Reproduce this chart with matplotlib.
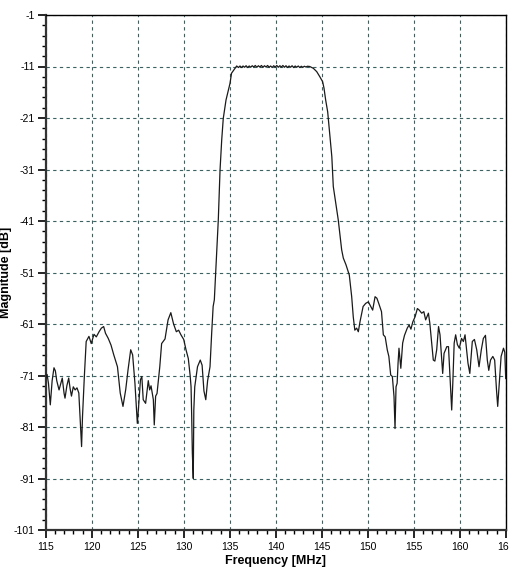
"""Filter response: magnitude vs frequency, drawn to out.png."""

import matplotlib

matplotlib.use("Agg")

import matplotlib.pyplot as plt
from matplotlib.ticker import MultipleLocator

plt.rcParams["axes.unicode_minus"] = False
plt.rcParams["font.family"] = ["Liberation Sans Narrow", "Liberation Sans", "DejaVu Sans"]

# (MHz, dB)
freq_lo = [
    115.0, 115.15, 115.3, 115.5, 115.7, 115.9, 116.05, 116.2, 116.45, 116.65,
    116.8, 117.0, 117.1, 117.3, 117.5, 117.65, 117.8, 118.0, 118.2, 118.4,
    118.6, 118.75, 118.9, 119.0, 119.2, 119.4, 119.7, 119.95, 120.25, 120.5,
    120.8, 121.05, 121.3, 121.5, 121.8, 122.1, 122.4, 122.8, 123.1, 123.4,
    123.7, 123.95, 124.24, 124.45, 124.7, 124.96, 125.1, 125.3, 125.45, 125.6,
    125.86, 126.15, 126.3, 126.45, 126.7, 126.8, 126.95, 127.1, 127.4, 127.6,
    127.97, 128.3, 128.6, 128.9, 129.2, 129.45, 129.7, 130.0, 130.25, 130.5,
    130.7, 130.8, 130.87, 130.94, 131.04, 131.1, 131.2, 131.5, 131.8, 132.0,
    132.2, 132.4, 132.6, 132.86, 133.04, 133.2, 133.33, 133.76, 133.95, 134.13,
    134.3, 134.6, 134.85, 135.03, 135.2, 135.58, 135.76,
]
mag_lo = [
    -71.5, -70.8, -72.5, -76.7, -72.0, -69.5, -70.1, -72.0, -73.8, -72.5,
    -71.5, -74.5, -75.4, -73.0, -71.5, -73.5, -75.0, -73.2, -73.8, -73.4,
    -74.4, -79.6, -84.8, -79.0, -71.2, -64.4, -63.4, -64.8, -63.0, -63.5,
    -62.5, -61.8, -61.5, -62.8, -63.8, -65.1, -67.0, -69.3, -74.4, -77.0,
    -73.7, -69.9, -66.0, -67.0, -72.5, -80.3, -77.0, -71.8, -71.2, -75.7,
    -76.4, -72.0, -73.8, -73.0, -75.7, -80.6, -75.0, -74.5, -69.3, -64.8,
    -63.9, -60.2, -58.8, -61.0, -62.5, -62.2, -63.1, -64.0, -66.0, -67.7,
    -71.0, -73.2, -79.0, -86.1, -91.0, -77.7, -73.2, -69.3, -68.0, -69.0,
    -74.0, -75.7, -72.0, -69.3, -62.8, -57.6, -56.3, -40.8, -31.1, -25.3,
    -21.1, -17.5, -15.6, -14.3, -12.3, -11.35, -10.9,
]

# passband ripple
freq_pass = [
    135.95, 136.12, 136.28, 136.45, 136.62, 136.78, 136.95, 137.12, 137.28, 137.45,
    137.62, 137.78, 137.95, 138.12, 138.28, 138.45, 138.62, 138.78, 138.95, 139.12,
    139.28, 139.45, 139.62, 139.78, 139.95, 140.12, 140.28, 140.45, 140.62, 140.78,
    140.95, 141.12, 141.28, 141.45, 141.62, 141.78, 141.95, 142.12, 142.28, 142.45,
    142.62, 142.78, 142.95, 143.12, 143.28, 143.45, 143.7,
]
mag_pass = [
    -11.2, -10.9, -11.2, -10.9, -11.15, -10.85, -11.2, -10.9, -11.15, -10.85,
    -11.1, -10.8, -11.15, -10.85, -11.1, -10.8, -11.15, -10.85, -11.1, -10.8,
    -11.15, -10.9, -11.2, -10.85, -11.1, -10.8, -11.15, -10.85, -11.1, -10.8,
    -11.15, -10.85, -11.2, -10.9, -11.15, -10.85, -11.2, -10.9, -11.15, -10.9,
    -11.2, -10.95, -11.15, -10.95, -11.1, -10.95, -11.0,
]

freq_hi = [
    144.09, 144.46, 144.8, 145.1, 145.25, 145.43, 145.65, 145.8, 146.1, 146.26,
    146.45, 146.8, 147.17, 147.35, 147.64, 148.0, 148.26, 148.43, 148.6, 148.8,
    148.98, 149.16, 149.5, 149.78, 150.07, 150.3, 150.54, 150.8, 151.0, 151.2,
    151.5, 151.7, 151.9, 152.13, 152.3, 152.5, 152.68, 152.86, 152.97, 153.08,
    153.2, 153.3, 153.4, 153.6, 153.8, 154.0, 154.3, 154.5, 154.7, 154.9,
    155.15, 155.4, 155.6, 155.87, 156.1, 156.3, 156.6, 156.75, 156.96, 157.13,
    157.3, 157.5, 157.7, 157.86, 158.15, 158.3, 158.6, 158.78, 158.95, 159.13,
    159.25, 159.4, 159.56, 159.75, 159.96, 160.2, 160.4, 160.58, 160.75, 160.9,
    161.1, 161.37, 161.6, 161.85, 162.1, 162.35, 162.57, 162.8, 163.0, 163.16,
    163.35, 163.6, 163.8, 164.0, 164.13, 164.3, 164.5, 164.76, 164.9, 165.0,
]
mag_hi = [
    -11.35, -12.0, -13.0, -13.95, -15.2, -17.5, -19.8, -22.7, -28.5, -34.3,
    -36.6, -40.8, -46.6, -48.2, -49.5, -51.5, -55.7, -59.6, -62.2, -61.8,
    -62.5, -60.6, -57.6, -57.0, -56.7, -57.5, -58.3, -55.7, -56.0, -57.0,
    -58.6, -63.1, -63.5, -66.05, -67.3, -70.9, -71.2, -75.1, -81.3, -73.2,
    -72.5, -68.6, -65.7, -69.6, -64.7, -63.2, -61.8, -61.2, -62.0, -60.6,
    -59.6, -58.0, -58.3, -58.9, -58.6, -60.2, -58.9, -60.8, -64.7, -68.0,
    -68.2, -66.0, -61.5, -63.1, -70.6, -66.7, -65.4, -65.4, -71.2, -77.7,
    -72.5, -64.7, -63.1, -65.0, -65.7, -63.8, -64.4, -63.1, -66.0, -68.6,
    -70.6, -64.4, -64.0, -66.0, -69.3, -66.0, -63.8, -63.2, -68.0, -70.0,
    -68.0, -67.3, -68.0, -73.8, -77.0, -72.5, -67.3, -65.7, -66.5, -71.6,
]

x_ticks = [115, 120, 125, 130, 135, 140, 145, 150, 155, 160, 165]
y_ticks = [-101, -91, -81, -71, -61, -51, -41, -31, -21, -11, -1]

GRID_COLOR = "#3a6262"


def main() -> None:
    freq = freq_lo + freq_pass + freq_hi
    mag = mag_lo + mag_pass + mag_hi

    fig = plt.figure(figsize=(5.09, 5.71), dpi=100)
    ax = fig.add_axes([45.7 / 509, 41 / 571, 460 / 509, 515 / 571])

    ax.plot(freq, mag, color="#1a1a1a", linewidth=0.9, zorder=3)

    ax.set_xlim(115, 165)
    ax.set_ylim(-101, -1)
    ax.set_xticks(x_ticks)
    ax.set_yticks(y_ticks)
    ax.xaxis.set_minor_locator(MultipleLocator(1))
    # minor steps of 2 dB counted from the odd major ticks
    ax.yaxis.set_minor_locator(MultipleLocator(2, offset=1))

    ax.grid(True, which="major", color=GRID_COLOR, linestyle=(0, (3, 3)), linewidth=0.8)
    ax.set_axisbelow(True)

    ax.tick_params(which="major", direction="out", length=6, width=1.2, labelsize=7.5, pad=2)
    ax.tick_params(which="minor", direction="out", length=3, width=1.0)
    ax.tick_params(axis="x", which="major", pad=3)

    for side in ("left", "bottom"):
        ax.spines[side].set_linewidth(1.6)
        ax.spines[side].set_color("#333333")
    for side in ("top", "right"):
        ax.spines[side].set_linewidth(1.0)
        ax.spines[side].set_color("black")

    ax.set_xlabel("Frequency [MHz]", fontsize=9, fontweight="bold", labelpad=2)
    ax.set_ylabel("Magnitude [dB]", fontsize=9, fontweight="bold")
    ax.yaxis.set_label_coords(-0.073, 0.5)

    fig.savefig("out.png", dpi=100)
    plt.close(fig)


if __name__ == "__main__":
    main()
